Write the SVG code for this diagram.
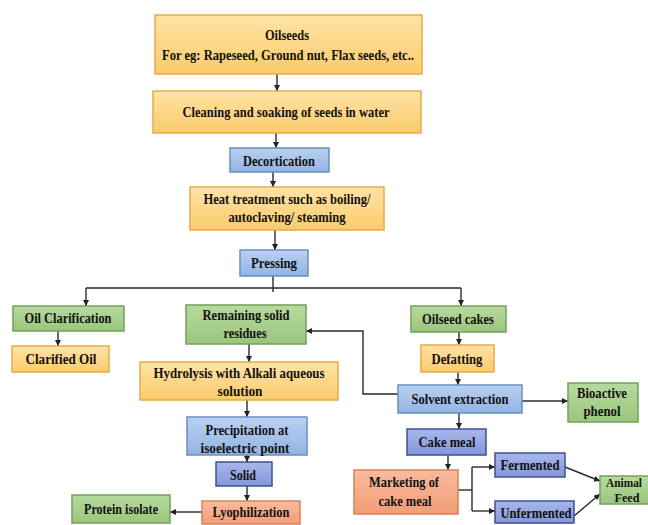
<svg xmlns="http://www.w3.org/2000/svg" width="648" height="525" viewBox="0 0 648 525">
<defs>
<linearGradient id="gy" x1="0" y1="0" x2="0" y2="1"><stop offset="0" stop-color="#FFE3A6"/><stop offset="1" stop-color="#FBCB6C"/></linearGradient>
<linearGradient id="gb" x1="0" y1="0" x2="0" y2="1"><stop offset="0" stop-color="#BAD2F1"/><stop offset="1" stop-color="#92B3E2"/></linearGradient>
<linearGradient id="gg" x1="0" y1="0" x2="0" y2="1"><stop offset="0" stop-color="#B7DA9F"/><stop offset="1" stop-color="#9AC67C"/></linearGradient>
<linearGradient id="gs" x1="0" y1="0" x2="0" y2="1"><stop offset="0" stop-color="#FABB9E"/><stop offset="1" stop-color="#F29C76"/></linearGradient>
<linearGradient id="gd" x1="0" y1="0" x2="0" y2="1"><stop offset="0" stop-color="#A8B8EC"/><stop offset="1" stop-color="#8396DA"/></linearGradient>
<marker id="ah" viewBox="0 0 10 10" refX="10" refY="5" markerWidth="6" markerHeight="6" markerUnits="userSpaceOnUse" orient="auto"><path d="M0,0 L10,5 L0,10 z" fill="#222"/></marker>
</defs>
<style>
rect{stroke-width:1.5}
.y{fill:url(#gy);stroke:#E6AB4E}
.b{fill:url(#gb);stroke:#6A8DC4}
.g{fill:url(#gg);stroke:#74A05A}
.s{fill:url(#gs);stroke:#D9805A}
.d{fill:url(#gd);stroke:#3F5090}
text{font-family:"Liberation Serif","Times New Roman",serif;font-weight:bold;font-size:15px;fill:#111;text-anchor:middle}
.sm{font-size:13px}
.c line,.c polyline{stroke:#2a2a2a;stroke-width:1.4;fill:none}
.a{marker-end:url(#ah)}
</style>
<rect width="648" height="525" fill="#fff"/>
<g class="c" id="connectors">
<line class="a" x1="277" y1="74" x2="277" y2="91"/>
<line class="a" x1="276" y1="133" x2="276" y2="148"/>
<line class="a" x1="273" y1="172" x2="273" y2="187"/>
<line class="a" x1="275" y1="230" x2="275" y2="250"/>
<line x1="273" y1="276" x2="273" y2="292"/>
<line x1="86" y1="288" x2="461" y2="288"/>
<line class="a" x1="86" y1="288" x2="86" y2="306"/>
<line class="a" x1="461" y1="288" x2="461" y2="306"/>
<line class="a" x1="58" y1="331" x2="58" y2="346"/>
<line class="a" x1="459" y1="332" x2="459" y2="345"/>
<line class="a" x1="249" y1="344" x2="249" y2="362"/>
<line class="a" x1="458" y1="372" x2="458" y2="385"/>
<polyline class="a" points="398,394 363,394 363,331 306,331"/>
<line class="a" x1="522" y1="401" x2="568" y2="401"/>
<line class="a" x1="247" y1="400" x2="247" y2="417"/>
<line class="a" x1="459" y1="413" x2="459" y2="429"/>
<line class="a" x1="247" y1="455" x2="247" y2="462"/>
<line class="a" x1="247" y1="486" x2="247" y2="501"/>
<line class="a" x1="202" y1="512" x2="170" y2="512"/>
<line class="a" x1="448" y1="455" x2="448" y2="470"/>
<line x1="458" y1="490" x2="472" y2="490"/>
<line x1="472" y1="467" x2="472" y2="511"/>
<line class="a" x1="472" y1="467" x2="495" y2="467"/>
<line class="a" x1="472" y1="511" x2="495" y2="511"/>
<line class="a" x1="565" y1="467" x2="600" y2="481"/>
<line class="a" x1="574" y1="516" x2="600" y2="494"/>
</g>
<g id="oilseeds"><rect class="y" x="155" y="15" width="267" height="59"/>
<text x="287" y="40" textLength="44" lengthAdjust="spacingAndGlyphs">Oilseeds</text>
<text x="288" y="60" textLength="252" lengthAdjust="spacingAndGlyphs">For eg: Rapeseed, Ground nut, Flax seeds, etc..</text></g>
<g id="cleaning"><rect class="y" x="153" y="91" width="268" height="42"/>
<text x="286" y="117" textLength="207" lengthAdjust="spacingAndGlyphs">Cleaning and soaking of seeds in water</text></g>
<g id="decortication"><rect class="b" x="230" y="148" width="99" height="24"/>
<text x="279" y="166" textLength="72" lengthAdjust="spacingAndGlyphs">Decortication</text></g>
<g id="heat"><rect class="y" x="190" y="187" width="194" height="43"/>
<text x="287" y="204" textLength="167" lengthAdjust="spacingAndGlyphs">Heat treatment such as boiling/</text>
<text x="287" y="222" textLength="117" lengthAdjust="spacingAndGlyphs">autoclaving/ steaming</text></g>
<g id="pressing"><rect class="b" x="240" y="250" width="68" height="26"/>
<text x="274" y="268" textLength="46" lengthAdjust="spacingAndGlyphs">Pressing</text></g>
<g id="oil-clarification"><rect class="g" x="13" y="306" width="111" height="25"/>
<text x="68" y="323" textLength="87" lengthAdjust="spacingAndGlyphs">Oil Clarification</text></g>
<g id="remaining"><rect class="g" x="186" y="305" width="120" height="39"/>
<text x="246" y="320" textLength="87" lengthAdjust="spacingAndGlyphs">Remaining solid</text>
<text x="245" y="338" textLength="43" lengthAdjust="spacingAndGlyphs">residues</text></g>
<g id="oilseed-cakes"><rect class="g" x="411" y="306" width="95" height="26"/>
<text x="458" y="324" textLength="72" lengthAdjust="spacingAndGlyphs">Oilseed cakes</text></g>
<g id="clarified-oil"><rect class="y" x="12" y="346" width="97" height="26"/>
<text x="61" y="364" textLength="71" lengthAdjust="spacingAndGlyphs">Clarified Oil</text></g>
<g id="defatting"><rect class="y" x="421" y="345" width="73" height="27"/>
<text x="457" y="364" textLength="51" lengthAdjust="spacingAndGlyphs">Defatting</text></g>
<g id="hydrolysis"><rect class="y" x="140" y="362" width="198" height="38"/>
<text x="239" y="378" textLength="171" lengthAdjust="spacingAndGlyphs">Hydrolysis with Alkali aqueous</text>
<text x="240" y="396" textLength="45" lengthAdjust="spacingAndGlyphs">solution</text></g>
<g id="solvent"><rect class="b" x="398" y="385" width="124" height="28"/>
<text x="460" y="404" textLength="97" lengthAdjust="spacingAndGlyphs">Solvent extraction</text></g>
<g id="bioactive"><rect class="g" x="568" y="383" width="70" height="39"/>
<text x="602" y="398" textLength="50" lengthAdjust="spacingAndGlyphs">Bioactive</text>
<text x="602" y="416" textLength="37" lengthAdjust="spacingAndGlyphs">phenol</text></g>
<g id="precipitation"><rect class="b" x="187" y="417" width="120" height="38"/>
<text x="247" y="435" textLength="83" lengthAdjust="spacingAndGlyphs">Precipitation at</text>
<text x="245" y="453" textLength="89" lengthAdjust="spacingAndGlyphs">isoelectric point</text></g>
<g id="cake-meal"><rect class="d" x="407" y="429" width="79" height="26"/>
<text x="447" y="447" textLength="57" lengthAdjust="spacingAndGlyphs">Cake meal</text></g>
<g id="solid"><rect class="d" x="216" y="462" width="56" height="24"/>
<text x="243" y="480" textLength="26" lengthAdjust="spacingAndGlyphs">Solid</text></g>
<g id="marketing"><rect class="s" x="354" y="470" width="104" height="44"/>
<text x="404" y="487" textLength="70" lengthAdjust="spacingAndGlyphs">Marketing of</text>
<text x="405" y="506" textLength="53" lengthAdjust="spacingAndGlyphs">cake meal</text></g>
<g id="fermented"><rect class="d" x="495" y="453" width="70" height="24"/>
<text x="530" y="470" textLength="59" lengthAdjust="spacingAndGlyphs">Fermented</text></g>
<g id="unfermented"><rect class="d" x="495" y="501" width="79" height="22"/>
<text x="536" y="518" textLength="71" lengthAdjust="spacingAndGlyphs">Unfermented</text></g>
<g id="animal-feed"><rect class="g" x="600" y="476" width="52" height="28"/>
<text class="sm" x="624" y="487" textLength="36" lengthAdjust="spacingAndGlyphs">Animal</text>
<text class="sm" x="627" y="502" textLength="25" lengthAdjust="spacingAndGlyphs">Feed</text></g>
<g id="protein"><rect class="g" x="72" y="495" width="98" height="28"/>
<text x="121" y="514" textLength="74" lengthAdjust="spacingAndGlyphs">Protein isolate</text></g>
<g id="lyophilization"><rect class="s" x="202" y="501" width="98" height="23"/>
<text x="251" y="517" textLength="77" lengthAdjust="spacingAndGlyphs">Lyophilization</text></g>
</svg>
